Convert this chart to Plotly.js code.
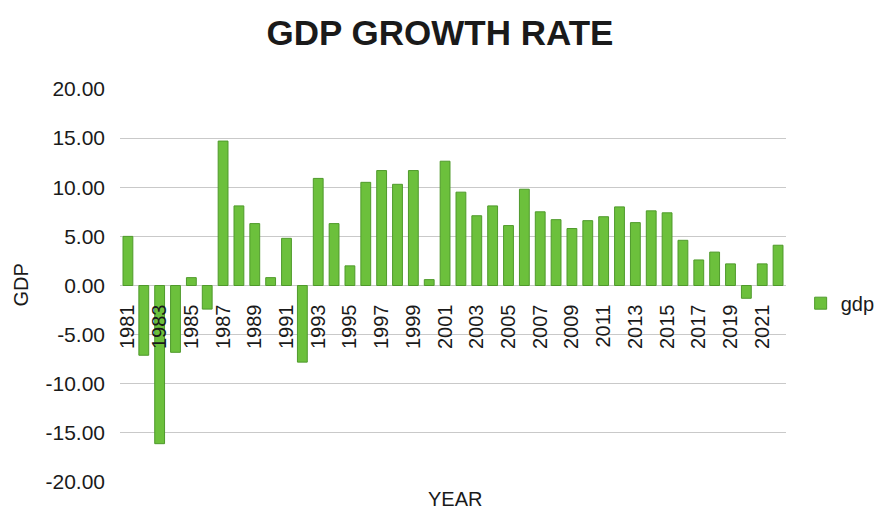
<!DOCTYPE html>
<html>
<head>
<meta charset="utf-8">
<script src="https://cdn.plot.ly/plotly-3.0.1.min.js"></script>
<style>html,body{margin:0;padding:0;background:#fff;}#chart{width:880px;height:510px;}</style>
</head>
<body>
<div id="chart"></div>
<script>
const years = ["1981","1982","1983","1984","1985","1986","1987","1988","1989","1990",
  "1991","1992","1993","1994","1995","1996","1997","1998","1999","2000",
  "2001","2002","2003","2004","2005","2006","2007","2008","2009","2010",
  "2011","2012","2013","2014","2015","2016","2017","2018","2019","2020",
  "2021","2022"];
const gdp = [5.0,-7.1,-16.1,-6.8,0.8,-2.4,14.7,8.1,6.3,0.8,
  4.8,-7.8,10.9,6.3,2.0,10.5,11.7,10.3,11.7,0.6,
  12.65,9.5,7.1,8.1,6.1,9.8,7.5,6.7,5.8,6.6,
  7.0,8.0,6.4,7.6,7.4,4.6,2.6,3.4,2.2,-1.3,
  2.2,4.1];
const tickYears = ["1981","1983","1985","1987","1989","1991","1993","1995","1997","1999",
  "2001","2003","2005","2007","2009","2011","2013","2015","2017","2019","2021"];
const yTicks = [20,15,10,5,0,-5,-10,-15,-20];
const yTickText = ["20.00","15.00","10.00","5.00","0.00","-5.00","-10.00","-15.00","-20.00"];

const trace = {
  type: 'bar', x: years, y: gdp, name: 'gdp',
  marker: {color: '#6cc03c', line: {color: '#4f9a2b', width: 1}},
  showlegend: true
};
const font = "Liberation Sans, Arial, sans-serif";
const layout = {
  width: 880, height: 510,
  margin: {l: 120, r: 94, t: 89, b: 28, autoexpand: false},
  paper_bgcolor: '#ffffff', plot_bgcolor: '#ffffff',
  font: {family: font, color: '#1a1a1a', size: 20},
  title: {text: '<b>GDP GROWTH RATE</b>', x: 0.5, xanchor: 'center', y: 0.936, yanchor: 'middle',
    font: {family: font, size: 35, color: '#1a1a1a'}},
  bargap: 0.38,
  xaxis: {
    type: 'category', tickvals: tickYears, ticktext: tickYears, tickangle: -90,
    anchor: 'free', position: 0.5, showgrid: false, showline: false, ticks: '',
    ticklabelstandoff: 14,
    tickfont: {family: font, size: 20, color: '#1a1a1a'}, zeroline: false
  },
  yaxis: {
    range: [-20, 20], tickvals: yTicks, ticktext: yTickText,
    showgrid: true, gridcolor: '#c9c9c9', gridwidth: 1, zeroline: true, zerolinecolor: '#c9c9c9',
    showline: false, ticks: '', ticklabelstandoff: 14,
    tickfont: {family: font, size: 21, color: '#1a1a1a'}
  },
  legend: {x: 1.022, xanchor: 'left', y: 0.455, yanchor: 'middle', font: {family: font, size: 20, color: '#1a1a1a'},
    bgcolor: 'rgba(0,0,0,0)', itemwidth: 30},
  annotations: [
    {text: 'YEAR', xref: 'paper', yref: 'paper', x: 0.503, y: -0.043, xanchor: 'center', yanchor: 'middle',
      showarrow: false, font: {family: font, size: 20, color: '#1a1a1a'}},
    {text: 'GDP', xref: 'paper', yref: 'paper', x: -0.15, y: 0.5, xanchor: 'center', yanchor: 'middle',
      textangle: -90, showarrow: false, font: {family: font, size: 20, color: '#1a1a1a'}}
  ]
};
Plotly.newPlot('chart', [trace], layout, {displayModeBar: false, staticPlot: true});
</script>
</body>
</html>
